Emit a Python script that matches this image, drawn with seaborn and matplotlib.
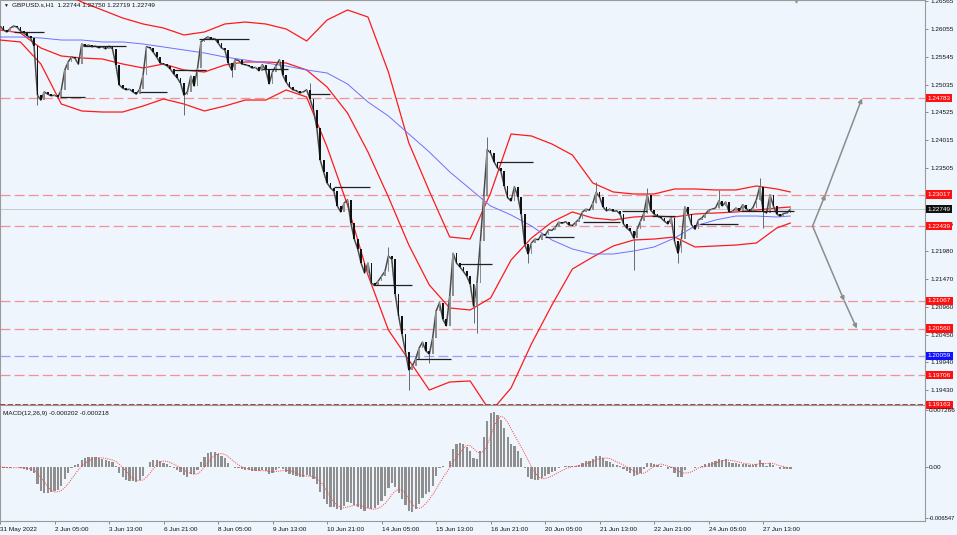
import numpy as np
import pandas as pd
import matplotlib
matplotlib.use('Agg')
import matplotlib.pyplot as plt
import seaborn as sns

# GBPUSD H1 chart, closes read every 2 hours (x axis is the hourly bar number)
closes = [
    1.2611, 1.2604, 1.2600, 1.2607, 1.2611, 1.2609, 1.2602, 1.2598, 1.2593, 1.2589,
    1.2574, 1.2484, 1.2475, 1.2490, 1.2486, 1.2483, 1.2484, 1.2481, 1.2494, 1.2530,
    1.2545, 1.2554, 1.2552, 1.2541, 1.2578, 1.2574, 1.2576, 1.2573, 1.2574, 1.2571,
    1.2573, 1.2569, 1.2574, 1.2569, 1.2540, 1.2503, 1.2497, 1.2494, 1.2495, 1.2490,
    1.2486, 1.2495, 1.2521, 1.2573, 1.2571, 1.2563, 1.2554, 1.2543, 1.2541, 1.2538,
    1.2532, 1.2523, 1.2516, 1.2506, 1.2484, 1.2490, 1.2519, 1.2501, 1.2534, 1.2582,
    1.2587, 1.2591, 1.2587, 1.2588, 1.2580, 1.2571, 1.2567, 1.2543, 1.2530, 1.2549,
    1.2548, 1.2541, 1.2540, 1.2538, 1.2534, 1.2535, 1.2529, 1.2540, 1.2530, 1.2505,
    1.2527, 1.2538, 1.2549, 1.2521, 1.2508, 1.2499, 1.2494, 1.2492, 1.2488, 1.2490,
    1.2494, 1.2477, 1.2457, 1.2424, 1.2365, 1.2343, 1.2323, 1.2314, 1.2308, 1.2281,
    1.2270, 1.2286, 1.2292, 1.2249, 1.2220, 1.2202, 1.2176, 1.2158, 1.2176, 1.2139,
    1.2136, 1.2143, 1.2152, 1.2161, 1.2189, 1.2183, 1.2119, 1.2079, 1.2046, 1.2013,
    1.1980, 1.1987, 1.2000, 1.2020, 1.2031, 1.2015, 1.2009, 1.2039, 1.2088, 1.2103,
    1.2073, 1.2061, 1.2116, 1.2194, 1.2176, 1.2169, 1.2161, 1.2152, 1.2138, 1.2097,
    1.2139, 1.2216, 1.2299, 1.2384, 1.2378, 1.2362, 1.2351, 1.2345, 1.2318, 1.2296,
    1.2290, 1.2316, 1.2298, 1.2266, 1.2211, 1.2193, 1.2213, 1.2220, 1.2219, 1.2229,
    1.2227, 1.2237, 1.2236, 1.2242, 1.2251, 1.2249, 1.2252, 1.2246, 1.2245, 1.2251,
    1.2257, 1.2270, 1.2275, 1.2273, 1.2286, 1.2306, 1.2297, 1.2279, 1.2272, 1.2275,
    1.2271, 1.2272, 1.2266, 1.2248, 1.2240, 1.2235, 1.2222, 1.2238, 1.2253, 1.2268,
    1.2301, 1.2273, 1.2266, 1.2262, 1.2259, 1.2253, 1.2248, 1.2259, 1.2216, 1.2194,
    1.2220, 1.2279, 1.2266, 1.2246, 1.2238, 1.2255, 1.2259, 1.2266, 1.2273, 1.2275,
    1.2277, 1.2290, 1.2281, 1.2288, 1.2270, 1.2271, 1.2277, 1.2272, 1.2283, 1.2276,
    1.2271, 1.2278, 1.2292, 1.2316, 1.2271, 1.2268, 1.2301, 1.2281, 1.2266, 1.2262,
    1.2267, 1.2268, 1.2275,
]

# long wicks (2h bar number, wick end price)
wick_bars = [11, 54, 68, 91, 114, 120, 126, 139, 140, 143, 155, 175, 186, 190, 199, 211, 223, 224]
wick_ends = [1.2466, 1.2448, 1.2517, 1.2506, 1.2206, 1.1943, 1.1993, 1.2066, 1.2048,
             1.2407, 1.2176, 1.2325, 1.2163, 1.2314, 1.2176, 1.2310, 1.2332, 1.2240]

# Bollinger bands and moving average, read every 12 bars
band_idx = list(range(0, 457, 12)) + [464]
bb_upper = [1.27137, 1.27046, 1.26917, 1.26734, 1.26550, 1.26404, 1.26257, 1.26147, 1.26073, 1.25945,
            1.26000, 1.26147, 1.26183, 1.26147, 1.26055, 1.25835, 1.26220, 1.26404, 1.26275, 1.25266,
            1.23964, 1.23083, 1.22239, 1.22202, 1.23047, 1.24129, 1.24092, 1.23945, 1.23744, 1.23230,
            1.23065, 1.23028, 1.23028, 1.23120, 1.23120, 1.23102, 1.23102, 1.23175, 1.23120, 1.23065]
bb_middle = [1.26037, 1.25982, 1.25706, 1.25560, 1.25523, 1.25505, 1.25413, 1.25340, 1.25413, 1.25303,
             1.25266, 1.25395, 1.25450, 1.25450, 1.25431, 1.25303, 1.24991, 1.24514, 1.23799, 1.22973,
             1.22092, 1.21359, 1.20937, 1.20900, 1.21120, 1.21817, 1.22221, 1.22514, 1.22698, 1.22588,
             1.22551, 1.22606, 1.22624, 1.22606, 1.22661, 1.22679, 1.22698, 1.22734, 1.22771, 1.22790]
bb_lower = [1.25853, 1.25817, 1.25413, 1.24679, 1.24551, 1.24532, 1.24532, 1.24642, 1.24771, 1.24679,
            1.24551, 1.24642, 1.24752, 1.24752, 1.24936, 1.24807, 1.23890, 1.22826, 1.21542, 1.20533,
            1.19983, 1.19432, 1.19579, 1.19598, 1.19029, 1.19469, 1.20280, 1.20992, 1.21652, 1.21872,
            1.22074, 1.22184, 1.22202, 1.22239, 1.22056, 1.22074, 1.22092, 1.22129, 1.22404, 1.22496]
ma_line = [1.25908, 1.25908, 1.25890, 1.25853, 1.25853, 1.25817, 1.25817, 1.25780, 1.25725, 1.25670,
           1.25615, 1.25541, 1.25486, 1.25431, 1.25376, 1.25303, 1.25248, 1.25046, 1.24716, 1.24459,
           1.24129, 1.23799, 1.23434, 1.23120, 1.22808, 1.22643, 1.22441, 1.22184, 1.22019, 1.21927,
           1.21927, 1.21982, 1.22056, 1.22221, 1.22441, 1.22551, 1.22624, 1.22624, 1.22606, 1.22624]

# daily black segments
seg_start = [8, 35, 49, 82, 102, 117, 154, 181, 196, 219, 244, 270, 292, 320, 342, 365, 383, 411, 435]
seg_end = [26, 50, 74, 98, 121, 146, 169, 194, 217, 242, 265, 289, 313, 337, 364, 380, 396, 433, 466]
seg_price = [1.2600, 1.2481, 1.2575, 1.2490, 1.2530, 1.2587, 1.2532, 1.2486, 1.2316, 1.2136,
             1.2000, 1.2174, 1.2362, 1.2224, 1.2251, 1.2272, 1.2263, 1.2248, 1.2272]

red_levels = [1.24783, 1.23017, 1.22439, 1.21067, 1.20560, 1.19706]
blue_level = 1.20059
bottom_level = 1.19163
last_price = 1.22749

arrow_up_idx = [477, 484.5, 506]
arrow_up_px = [1.22439, 1.23017, 1.24783]
arrow_dn_idx = [477, 495.6, 503]
arrow_dn_px = [1.22439, 1.21067, 1.20560]

price_ticks = [1.26565, 1.26055, 1.25545, 1.25035, 1.24525, 1.24015, 1.23505,
               1.22485, 1.21980, 1.21470, 1.20960, 1.20450, 1.19940, 1.19430]
date_labels = ['31 May 2022', '2 Jun 05:00', '3 Jun 13:00', '6 Jun 21:00', '8 Jun 05:00',
               '9 Jun 13:00', '10 Jun 21:00', '14 Jun 05:00', '15 Jun 13:00', '16 Jun 21:00',
               '20 Jun 05:00', '21 Jun 13:00', '22 Jun 21:00', '24 Jun 05:00', '27 Jun 13:00']

sns.set_theme(style='white')
plt.rcParams['font.family'] = ['Liberation Sans', 'DejaVu Sans']

bg = '#eef5fc'
fs = 4.6
W, H = 957, 535
fig = plt.figure(figsize=(W / 100, H / 100), dpi=100, facecolor=bg)
ax = fig.add_axes([0, 1 - 405 / H, 925 / W, 405 / H], facecolor=bg)
ax2 = fig.add_axes([0, 1 - 521 / H, 925 / W, 116 / H], facecolor=bg)

hours = np.arange(len(closes)) * 2
s = pd.Series(closes)
opens = pd.Series([closes[0]] + closes[:-1])

# horizontal levels
for p in red_levels:
    ax.axhline(p, color='#f29393', lw=0.9, ls=(0, (8, 3.3)), zorder=1)
ax.axhline(blue_level, color='#9c9cff', lw=0.9, ls=(0, (8, 3.3)), zorder=1)
ax.axhline(last_price, color='#c8c8c8', lw=0.7, zorder=1)

# bands and MA
sns.lineplot(x=band_idx, y=bb_upper, ax=ax, color='#ff1a1a', lw=0.9, zorder=3)
sns.lineplot(x=band_idx, y=bb_middle, ax=ax, color='#ff1a1a', lw=0.9, zorder=3)
sns.lineplot(x=band_idx, y=bb_lower, ax=ax, color='#ff1a1a', lw=0.9, zorder=3)
sns.lineplot(x=band_idx, y=ma_line, ax=ax, color='#6f6fff', lw=0.7, zorder=3)

# candles: a close line under the bodies keeps the bar chart continuous
sns.lineplot(x=hours, y=closes, ax=ax, color='#4a4a4a', lw=1.1, zorder=4)
up = s >= opens
body_lo = np.minimum(s, opens)
body_h = np.maximum((s - opens).abs(), 0.00015)
ax.bar(hours, body_h, bottom=body_lo, width=1.0, color=np.where(up, '#8e8e8e', '#111111'),
       linewidth=0, zorder=5)
for k, w in zip(wick_bars, wick_ends):
    lo = min(opens[k], closes[k], w)
    hi = max(opens[k], closes[k], w)
    ax.vlines(k * 2, lo, hi, color='#6a6a6a', lw=0.7, zorder=4)

# daily segments
ax.hlines(seg_price, seg_start, seg_end, color='#202020', lw=0.9, zorder=6)

# arrows
for xs, ys in [(arrow_up_idx, arrow_up_px), (arrow_dn_idx, arrow_dn_px)]:
    for i in range(len(xs) - 1):
        ax.annotate('', xy=(xs[i + 1], ys[i + 1]), xytext=(xs[i], ys[i]),
                    arrowprops=dict(arrowstyle='-|>', color='#8c8c8c', lw=1.1,
                                    mutation_scale=6, shrinkA=0, shrinkB=0), zorder=6)

ax.axhline(bottom_level, color='#b22a2a', lw=1.3, ls=(0, (3, 1.2)), clip_on=False, zorder=7)
ax.plot([467], [1.26587], marker='v', ms=3.5, color='#9a9a9a', clip_on=False, zorder=7)

ax.set_xlim(0, 543)
ax.set_ylim(1.19157, 1.26587)
ax.set_xticks([])
ax.yaxis.tick_right()
ax.set_yticks(price_ticks)
ax.set_yticklabels([f'{p:.5f}' for p in price_ticks])
ax.tick_params(axis='y', length=2.5, width=0.6, pad=1.2, labelsize=fs, color='#777777',
               labelcolor='#111111', right=True)
for sp in ax.spines.values():
    sp.set_color('#9a9a9a')
    sp.set_linewidth(0.8)


def price_tag(a, y, txt, fc):
    a.text(1.003, y, txt, transform=a.get_yaxis_transform(), ha='left', va='center',
           fontsize=fs, color='white', zorder=20, clip_on=False,
           bbox=dict(boxstyle='square,pad=0.25', fc=fc, ec='none'))


for p in red_levels + [bottom_level]:
    price_tag(ax, p, f'{p:.5f}', '#ff1010')
price_tag(ax, blue_level, f'{blue_level:.5f}', '#1010ff')
price_tag(ax, last_price, f'{last_price:.5f}', '#111111')

fig.text(3 / W, 1 - 5 / H, '\u25bc', fontsize=3.5, va='center', color='#222222')
fig.text(12 / W, 1 - 5 / H, 'GBPUSD.s,H1  1.22744 1.22750 1.22719 1.22749',
         fontsize=fs, va='center', color='#111111')

# MACD(12,26,9) from the closes (2h steps)
macd = s.ewm(span=6, adjust=False).mean() - s.ewm(span=13, adjust=False).mean()
signal = macd.rolling(5, min_periods=1).mean()
ax2.bar(hours, macd, width=1.3, color='#8f8f8f', linewidth=0, zorder=3)
sns.lineplot(x=hours, y=signal.values, ax=ax2, color='#ff3b3b', lw=0.7,
             linestyle=(0, (1, 1.3)), zorder=4)
ax2.text(3 / 925, 0.93, 'MACD(12,26,9) -0.000202 -0.000218', transform=ax2.transAxes,
         fontsize=fs, va='center', color='#111111')

ax2.set_xlim(0, 543)
ax2.set_ylim(-0.00693, 0.0079)
ax2.yaxis.tick_right()
ax2.set_yticks([0.007266, 0.0, -0.006547])
ax2.set_yticklabels(['0.007266', '0.00', '-0.006547'])
ax2.tick_params(axis='y', length=2.0, width=0.6, pad=0.8, labelsize=fs, color='#777777',
                labelcolor='#111111', right=True)
for lab in ax2.get_yticklabels():
    if lab.get_text().startswith('-'):
        lab.set_fontsize(4.2)
ax2.set_xticks(np.arange(len(date_labels)) * 32)
ax2.set_xticklabels(date_labels, ha='left')
ax2.tick_params(axis='x', length=2.5, width=0.6, pad=1.5, labelsize=fs, color='#777777',
                labelcolor='#111111', bottom=True)
for sp in ax2.spines.values():
    sp.set_color('#9a9a9a')
    sp.set_linewidth(0.8)
ax2.set_xlabel('')
ax2.set_ylabel('')
ax.set_ylabel('')

fig.savefig('out.png', dpi=100, facecolor=bg)
